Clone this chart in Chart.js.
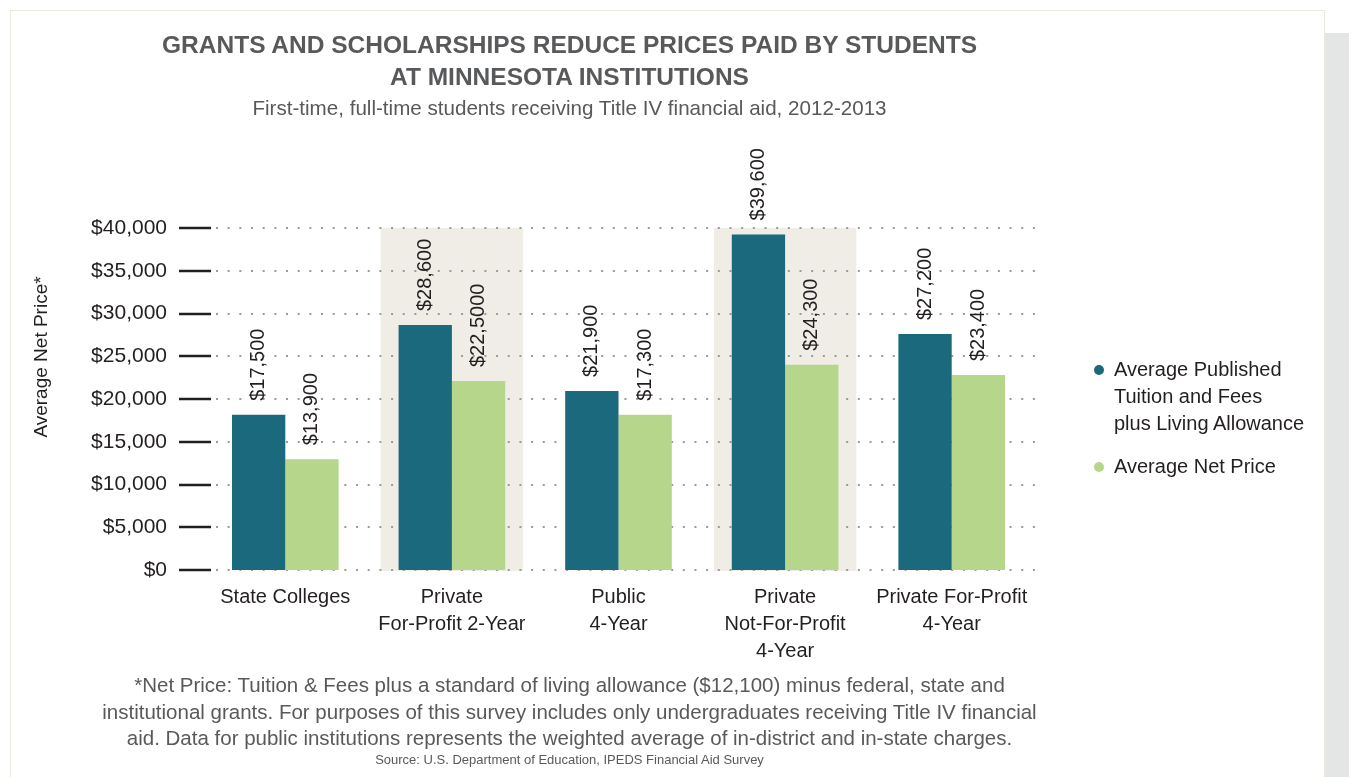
<!DOCTYPE html>
<html>
<head>
<meta charset="utf-8">
<script src="https://cdn.jsdelivr.net/npm/chart.js@4.4.1/dist/chart.umd.min.js"></script>
<style>
  html, body { margin: 0; padding: 0; background: #fff; }
  body { width: 1349px; height: 777px; position: relative; overflow: hidden;
         font-family: 'Liberation Sans', Arial, sans-serif; }
  .panel { position: absolute; left: 10px; top: 10px; width: 1313px; height: 800px;
           border: 1px solid #e6ecdc; background: #fff; }
  .strip { position: absolute; left: 1325px; top: 33px; width: 24px; height: 760px; background: #e4e6e6; }
  #chartWrap { position: absolute; left: 0; top: 0; width: 1349px; height: 777px; }
  .title { position: absolute; left: 0; width: 1139px; top: 29px; text-align: center;
           font-weight: bold; font-size: 24.5px; line-height: 32px; color: #58595b; }
  .subtitle { position: absolute; left: 0; width: 1139px; top: 96px; text-align: center;
              font-size: 20.6px; line-height: 24px; color: #58595b; }
  .legend { position: absolute; left: 1092px; top: 356px; color: #231f20; font-size: 20px; }
  .legend .item { position: relative; padding-left: 22px; line-height: 27px; margin-bottom: 16px; }
  .legend .dot { position: absolute; left: 2px; top: 9px; width: 10px; height: 10px; border-radius: 50%; }
  .footnote { position: absolute; left: 0; width: 1139px; top: 672px; text-align: center;
              font-size: 20.5px; line-height: 26.5px; color: #58595b; }
  .source { position: absolute; left: 0; width: 1139px; top: 752px; text-align: center;
            font-size: 13px; line-height: 16px; color: #58595b; }
</style>
</head>
<body>
<div class="panel"></div>
<div class="strip"></div>
<div id="chartWrap"><canvas id="chart" width="1349" height="777"></canvas></div>
<div class="title">GRANTS AND SCHOLARSHIPS REDUCE PRICES PAID BY STUDENTS<br>AT MINNESOTA INSTITUTIONS</div>
<div class="subtitle">First-time, full-time students receiving Title IV financial aid, 2012-2013</div>
<div class="legend" id="legend"></div>
<div class="footnote">*Net Price: Tuition &amp; Fees plus a standard of living allowance ($12,100) minus federal, state and<br>institutional grants. For purposes of this survey includes only undergraduates receiving Title IV financial<br>aid. Data for public institutions represents the weighted average of in-district and in-state charges.</div>
<div class="source">Source: U.S. Department of Education, IPEDS Financial Aid Survey</div>

<script>
// data
const categories = [
    ['State Colleges'],
    ['Private', 'For-Profit 2-Year'],
    ['Public', '4-Year'],
    ['Private', 'Not-For-Profit', '4-Year'],
    ['Private For-Profit', '4-Year']
];
const publishedValues = [18150, 28650, 20950, 39250, 27600];
const netValues = [12950, 22100, 18150, 24000, 22800];
const publishedLabels = ['$17,500', '$28,600', '$21,900', '$39,600', '$27,200'];
const netLabels = ['$13,900', '$22,5000', '$17,300', '$24,300', '$23,400'];
const seriesNames = [
    ['Average Published', 'Tuition and Fees', 'plus Living Allowance'],
    ['Average Net Price']
];
const shadedCategories = [1, 3];
const yMin = 0, yMax = 40000, yStep = 5000;
const yTitle = 'Average Net Price*';

const TEAL = '#1b697c';
const GREEN = '#b5d68b';
const INK = '#231f20';
const FONT = "'Liberation Sans', Arial, sans-serif";

document.addEventListener('DOMContentLoaded', function() {
    // html legend
    const legendDiv = document.getElementById('legend');
    [TEAL, GREEN].forEach((color, i) => {
        const item = document.createElement('div');
        item.className = 'item';
        const dot = document.createElement('span');
        dot.className = 'dot';
        dot.style.background = color;
        item.appendChild(dot);
        item.innerHTML += seriesNames[i].join('<br>');
        legendDiv.appendChild(item);
    });

    // shaded bands, dotted grid and tick marks under the bars
    const backdrop = {
        id: 'backdrop',
        beforeDatasetsDraw(chart) {
            const ctx = chart.ctx;
            const x = chart.scales.x, y = chart.scales.y;
            const area = chart.chartArea;
            const catW = (area.right - area.left) / categories.length;
            ctx.save();
            ctx.fillStyle = '#efede5';
            shadedCategories.forEach(i => {
                const cx = x.getPixelForValue(i);
                const w = catW * 0.855;
                ctx.fillRect(cx - w / 2, y.getPixelForValue(yMax), w, y.getPixelForValue(yMin) - y.getPixelForValue(yMax) + 1);
            });
            y.ticks.forEach(t => {
                const py = Math.round(y.getPixelForValue(t.value));
                ctx.strokeStyle = '#9b9b9b';
                ctx.lineWidth = 2;
                ctx.setLineDash([2, 9.67]);
                ctx.beginPath();
                ctx.moveTo(area.left + 14, py);
                ctx.lineTo(area.right + 7, py);
                ctx.stroke();
                ctx.setLineDash([]);
                ctx.strokeStyle = INK;
                ctx.lineWidth = 2.5;
                ctx.beginPath();
                ctx.moveTo(area.left - 23, py);
                ctx.lineTo(area.left + 9, py);
                ctx.stroke();
            });
            // y axis title, centred where the original has it
            ctx.fillStyle = INK;
            ctx.font = '19px ' + FONT;
            ctx.textAlign = 'center';
            ctx.textBaseline = 'middle';
            ctx.translate(42, 357);
            ctx.rotate(-Math.PI / 2);
            ctx.fillText(yTitle, 0, 0);
            ctx.restore();
        }
    };

    // rotated value labels above the bars
    const valueLabels = {
        id: 'valueLabels',
        afterDatasetsDraw(chart) {
            const ctx = chart.ctx;
            const sets = [publishedLabels, netLabels];
            ctx.save();
            ctx.fillStyle = INK;
            ctx.font = '20px ' + FONT;
            ctx.textAlign = 'left';
            ctx.textBaseline = 'middle';
            sets.forEach((labels, di) => {
                chart.getDatasetMeta(di).data.forEach((bar, i) => {
                    ctx.save();
                    ctx.translate(bar.x, bar.y - 14);
                    ctx.rotate(-Math.PI / 2);
                    ctx.fillText(labels[i], 0, 0);
                    ctx.restore();
                });
            });
            ctx.restore();
        }
    };

    const ctx = document.getElementById('chart').getContext('2d');
    new Chart(ctx, {
        type: 'bar',
        data: {
            labels: categories,
            datasets: [{
                label: seriesNames[0].join(' '),
                data: publishedValues,
                backgroundColor: TEAL,
                categoryPercentage: 0.64,
                barPercentage: 1.0
            }, {
                label: seriesNames[1].join(' '),
                data: netValues,
                backgroundColor: GREEN,
                categoryPercentage: 0.64,
                barPercentage: 1.0
            }]
        },
        options: {
            responsive: false,
            animation: false,
            devicePixelRatio: 1,
            layout: { padding: { top: 228, right: 314, bottom: 107, left: 0 } },
            plugins: {
                legend: { display: false },
                tooltip: { enabled: false }
            },
            scales: {
                x: {
                    grid: { display: false, drawTicks: false },
                    border: { display: false },
                    ticks: {
                        color: INK,
                        font: { family: FONT, size: 20, lineHeight: 1.35 },
                        padding: 14,
                        maxRotation: 0,
                        autoSkip: false
                    },
                    afterFit(scale) { scale.height = 100; }
                },
                y: {
                    min: yMin,
                    max: yMax,
                    grid: { display: false, drawTicks: false },
                    border: { display: false },
                    ticks: {
                        stepSize: yStep,
                        color: INK,
                        font: { family: FONT, size: 21 },
                        padding: 35,
                        callback: v => '$' + v.toLocaleString('en-US')
                    },
                    afterFit(scale) { scale.width = 202; }
                }
            }
        },
        plugins: [backdrop, valueLabels]
    });
});
</script>
</body>
</html>
